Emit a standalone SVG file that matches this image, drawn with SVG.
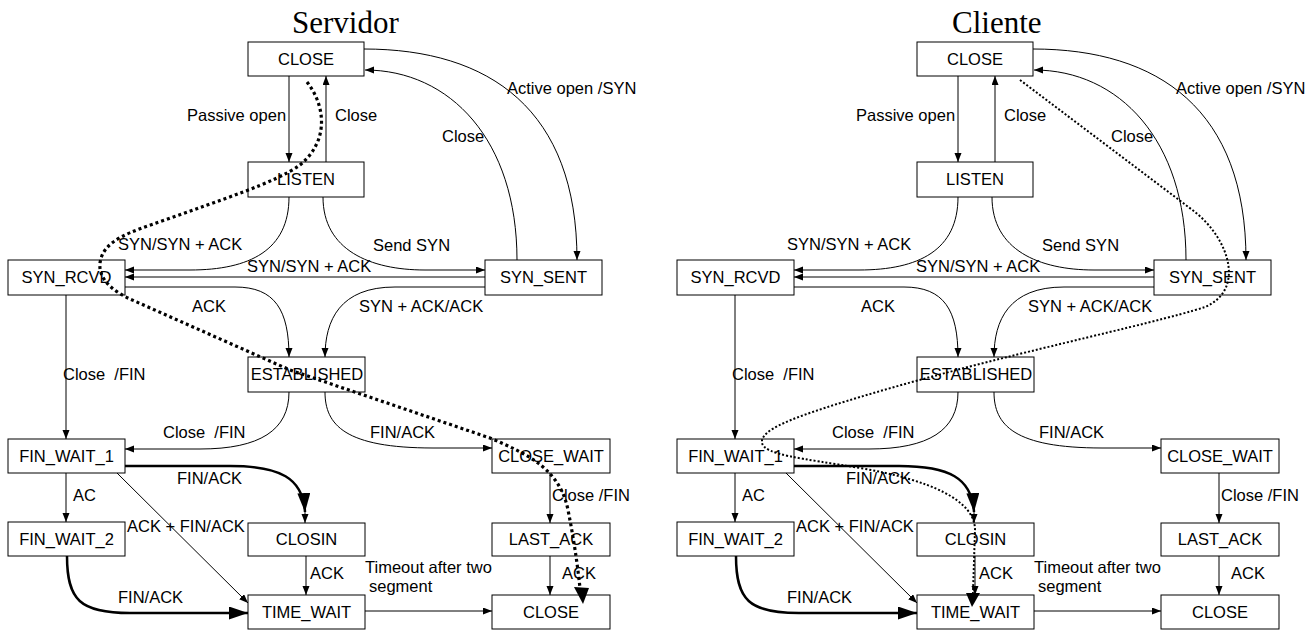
<svg xmlns="http://www.w3.org/2000/svg" width="1312" height="631" viewBox="0 0 1312 631">
<style>
.bg{fill:#fff}
.box{fill:#fff;stroke:#000;stroke-width:1}
.nt{font-family:"Liberation Sans",Arial,sans-serif;font-size:16.5px;text-anchor:middle;fill:#000}
.lb{font-family:"Liberation Sans",Arial,sans-serif;font-size:16.5px;fill:#000;white-space:pre}
.ttl{font-family:"Liberation Serif","Times New Roman",serif;font-size:31px;fill:#000}
.e{fill:none;stroke:#000;stroke-width:1}
.thick{fill:none;stroke:#000;stroke-width:2.5}
.dot1{fill:none;stroke:#000;stroke-width:3.2;stroke-dasharray:3 3}
.dot2{fill:none;stroke:#000;stroke-width:2;stroke-dasharray:2 2}
</style>
<defs>
<marker id="a" markerUnits="userSpaceOnUse" markerWidth="10" markerHeight="8" refX="9" refY="3.5" orient="auto">
<path d="M0,0 L9,3.5 L0,7 z" fill="#000"/>
</marker>
<marker id="A" markerUnits="userSpaceOnUse" markerWidth="20" markerHeight="14" refX="19" refY="6.5" orient="auto">
<path d="M0,0 L19,6.5 L0,13 z" fill="#000"/>
</marker>
</defs>
<rect class="bg" x="0" y="0" width="1312" height="631"/>
<text class="ttl" x="292" y="33">Servidor</text>
<text class="ttl" x="952" y="33">Cliente</text>

<!-- ===== Servidor ===== -->
<g id="servidor">
<g id="s-close-top"><rect class="box" x="248" y="42" width="116" height="34"/><text class="nt" x="306" y="65">CLOSE</text></g>
<g id="s-listen"><rect class="box" x="248" y="162" width="116" height="35"/><text class="nt" x="306" y="185">LISTEN</text></g>
<g id="s-syn-rcvd"><rect class="box" x="8" y="260" width="117" height="35"/><text class="nt" x="66.5" y="283">SYN_RCVD</text></g>
<g id="s-syn-sent"><rect class="box" x="485" y="260" width="117" height="35"/><text class="nt" x="543.5" y="283">SYN_SENT</text></g>
<g id="s-established"><rect class="box" x="248" y="357" width="117" height="35"/><text class="nt" x="307" y="380">ESTABLISHED</text></g>
<g id="s-fin-wait-1"><rect class="box" x="8" y="439" width="117" height="34"/><text class="nt" x="66.5" y="462">FIN_WAIT_1</text></g>
<g id="s-close-wait"><rect class="box" x="492" y="439" width="118" height="34"/><text class="nt" x="551" y="462">CLOSE_WAIT</text></g>
<g id="s-fin-wait-2"><rect class="box" x="8" y="522" width="117" height="34"/><text class="nt" x="66.5" y="545">FIN_WAIT_2</text></g>
<g id="s-closin"><rect class="box" x="248" y="523" width="117" height="33"/><text class="nt" x="306.5" y="545">CLOSIN</text></g>
<g id="s-last-ack"><rect class="box" x="492" y="523" width="118" height="33"/><text class="nt" x="551" y="545">LAST_ACK</text></g>
<g id="s-time-wait"><rect class="box" x="248" y="595" width="117" height="34"/><text class="nt" x="306.5" y="618">TIME_WAIT</text></g>
<g id="s-close-bottom"><rect class="box" x="492" y="595" width="118" height="34"/><text class="nt" x="551" y="618">CLOSE</text></g>

<g id="s-connectors">
<path class="e" d="M289,76 L289,162" marker-end="url(#a)"/>
<path class="e" d="M326,162 L326,76" marker-end="url(#a)"/>
<path class="e" d="M364,49 C490,49 577,110 577,260" marker-end="url(#a)"/>
<path class="e" d="M517,260 C517,140 450,70 365,70" marker-end="url(#a)"/>
<path class="e" d="M289,197 C289,250 250,270 190,270 L125,270" marker-end="url(#a)"/>
<path class="e" d="M323,197 C323,250 370,270 425,270 L485,270" marker-end="url(#a)"/>
<path class="e" d="M485,277 L125,277" marker-end="url(#a)"/>
<path class="e" d="M125,287 L235,287 C275,287 289,310 289,357" marker-end="url(#a)"/>
<path class="e" d="M485,287 L395,287 C340,287 325,320 325,357" marker-end="url(#a)"/>
<path class="e" d="M66,295 L66,439" marker-end="url(#a)"/>
<path class="e" d="M289,392 C289,430 260,449 200,449 L125,449" marker-end="url(#a)"/>
<path class="e" d="M325,392 C325,425 345,448 433,448 L492,448" marker-end="url(#a)"/>
<path class="thick" d="M125,466 L230,466 C280,466 303,478 305,512" marker-end="url(#A)"/>
<path class="e" d="M305,505 L305,523" marker-end="url(#a)"/>
<path class="e" d="M66,473 L66,522" marker-end="url(#a)"/>
<path class="e" d="M117,473 L248,603" marker-end="url(#a)"/>
<path class="thick" d="M67,556 C67,600 80,613 130,613 L248,613" marker-end="url(#A)"/>
<path class="e" d="M306,556 L306,595" marker-end="url(#a)"/>
<path class="e" d="M365,611 L492,611" marker-end="url(#a)"/>
<path class="e" d="M550,473 L550,523" marker-end="url(#a)"/>
<path class="e" d="M550,556 L550,595" marker-end="url(#a)"/>
<path class="dot1" d="M307,82 C325,105 330,140 300,165 C275,183 220,200 165,220 C130,232 103,240 100,263 C98,280 115,292 130,299 L290,370 L490,438 C530,455 560,470 568,510 C575,545 578,570 580,588"/>
<polygon points="574,587 589,588 583,604" fill="#000"/>
<text class="lb" x="187" y="121">Passive open</text>
<text class="lb" x="335" y="121">Close</text>
<text class="lb" x="507" y="94">Active open /SYN</text>
<text class="lb" x="442" y="142">Close</text>
<text class="lb" x="118" y="250">SYN/SYN + ACK</text>
<text class="lb" x="373" y="251">Send SYN</text>
<text class="lb" x="247" y="272">SYN/SYN + ACK</text>
<text class="lb" x="192" y="312">ACK</text>
<text class="lb" x="359" y="312">SYN + ACK/ACK</text>
<text class="lb" x="63" y="380">Close  /FIN</text>
<text class="lb" x="163" y="438">Close  /FIN</text>
<text class="lb" x="370" y="438">FIN/ACK</text>
<text class="lb" x="177" y="484">FIN/ACK</text>
<text class="lb" x="73" y="501">AC</text>
<text class="lb" x="552" y="501">Close /FIN</text>
<text class="lb" x="127" y="532">ACK + FIN/ACK</text>
<text class="lb" x="310" y="579">ACK</text>
<text class="lb" x="365" y="573">Timeout after two</text>
<text class="lb" x="369" y="592">segment</text>
<text class="lb" x="562" y="579">ACK</text>
<text class="lb" x="118" y="603">FIN/ACK</text>
</g>
</g>

<!-- ===== Cliente ===== -->
<g id="cliente" transform="translate(669,0)">
<g id="c-close-top"><rect class="box" x="248" y="42" width="116" height="34"/><text class="nt" x="306" y="65">CLOSE</text></g>
<g id="c-listen"><rect class="box" x="248" y="162" width="116" height="35"/><text class="nt" x="306" y="185">LISTEN</text></g>
<g id="c-syn-rcvd"><rect class="box" x="8" y="260" width="117" height="35"/><text class="nt" x="66.5" y="283">SYN_RCVD</text></g>
<g id="c-syn-sent"><rect class="box" x="485" y="260" width="117" height="35"/><text class="nt" x="543.5" y="283">SYN_SENT</text></g>
<g id="c-established"><rect class="box" x="248" y="357" width="117" height="35"/><text class="nt" x="307" y="380">ESTABLISHED</text></g>
<g id="c-fin-wait-1"><rect class="box" x="8" y="439" width="117" height="34"/><text class="nt" x="66.5" y="462">FIN_WAIT_1</text></g>
<g id="c-close-wait"><rect class="box" x="492" y="439" width="118" height="34"/><text class="nt" x="551" y="462">CLOSE_WAIT</text></g>
<g id="c-fin-wait-2"><rect class="box" x="8" y="522" width="117" height="34"/><text class="nt" x="66.5" y="545">FIN_WAIT_2</text></g>
<g id="c-closin"><rect class="box" x="248" y="523" width="117" height="33"/><text class="nt" x="306.5" y="545">CLOSIN</text></g>
<g id="c-last-ack"><rect class="box" x="492" y="523" width="118" height="33"/><text class="nt" x="551" y="545">LAST_ACK</text></g>
<g id="c-time-wait"><rect class="box" x="248" y="595" width="117" height="34"/><text class="nt" x="306.5" y="618">TIME_WAIT</text></g>
<g id="c-close-bottom"><rect class="box" x="492" y="595" width="118" height="34"/><text class="nt" x="551" y="618">CLOSE</text></g>

<g id="c-connectors">
<path class="e" d="M289,76 L289,162" marker-end="url(#a)"/>
<path class="e" d="M326,162 L326,76" marker-end="url(#a)"/>
<path class="e" d="M364,49 C490,49 577,110 577,260" marker-end="url(#a)"/>
<path class="e" d="M517,260 C517,140 450,70 365,70" marker-end="url(#a)"/>
<path class="e" d="M289,197 C289,250 250,270 190,270 L125,270" marker-end="url(#a)"/>
<path class="e" d="M323,197 C323,250 370,270 425,270 L485,270" marker-end="url(#a)"/>
<path class="e" d="M485,277 L125,277" marker-end="url(#a)"/>
<path class="e" d="M125,287 L235,287 C275,287 289,310 289,357" marker-end="url(#a)"/>
<path class="e" d="M485,287 L395,287 C340,287 325,320 325,357" marker-end="url(#a)"/>
<path class="e" d="M66,295 L66,439" marker-end="url(#a)"/>
<path class="e" d="M289,392 C289,430 260,449 200,449 L125,449" marker-end="url(#a)"/>
<path class="e" d="M325,392 C325,425 345,448 433,448 L492,448" marker-end="url(#a)"/>
<path class="thick" d="M125,466 L230,466 C280,466 303,478 305,512" marker-end="url(#A)"/>
<path class="e" d="M305,505 L305,523" marker-end="url(#a)"/>
<path class="e" d="M66,473 L66,522" marker-end="url(#a)"/>
<path class="e" d="M117,473 L248,603" marker-end="url(#a)"/>
<path class="thick" d="M67,556 C67,600 80,613 130,613 L248,613" marker-end="url(#A)"/>
<path class="e" d="M306,556 L306,595" marker-end="url(#a)"/>
<path class="e" d="M365,611 L492,611" marker-end="url(#a)"/>
<path class="e" d="M550,473 L550,523" marker-end="url(#a)"/>
<path class="e" d="M550,556 L550,595" marker-end="url(#a)"/>
<path class="dot2" d="M351,80 L526,212 C561,240 576,290 536,307 C481,325 331,355 191,397 C121,418 91,430 93,443 C96,455 131,458 191,468 C261,480 306,500 306,530 L304,593"/>
<polygon points="297,593 311,593 303,607" fill="#000"/>
<text class="lb" x="187" y="121">Passive open</text>
<text class="lb" x="335" y="121">Close</text>
<text class="lb" x="507" y="94">Active open /SYN</text>
<text class="lb" x="442" y="142">Close</text>
<text class="lb" x="118" y="250">SYN/SYN + ACK</text>
<text class="lb" x="373" y="251">Send SYN</text>
<text class="lb" x="247" y="272">SYN/SYN + ACK</text>
<text class="lb" x="192" y="312">ACK</text>
<text class="lb" x="359" y="312">SYN + ACK/ACK</text>
<text class="lb" x="63" y="380">Close  /FIN</text>
<text class="lb" x="163" y="438">Close  /FIN</text>
<text class="lb" x="370" y="438">FIN/ACK</text>
<text class="lb" x="177" y="484">FIN/ACK</text>
<text class="lb" x="73" y="501">AC</text>
<text class="lb" x="552" y="501">Close /FIN</text>
<text class="lb" x="127" y="532">ACK + FIN/ACK</text>
<text class="lb" x="310" y="579">ACK</text>
<text class="lb" x="365" y="573">Timeout after two</text>
<text class="lb" x="369" y="592">segment</text>
<text class="lb" x="562" y="579">ACK</text>
<text class="lb" x="118" y="603">FIN/ACK</text>
</g>
</g>
</svg>
